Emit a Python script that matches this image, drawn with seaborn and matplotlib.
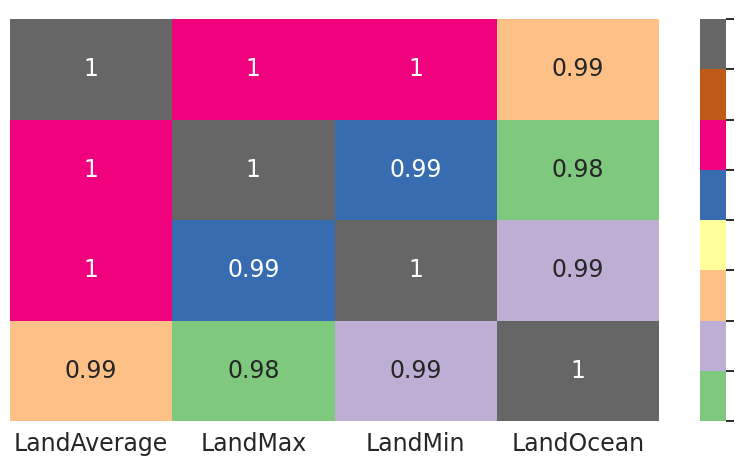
import numpy as np
import pandas as pd
import matplotlib
matplotlib.use("Agg")
import matplotlib.pyplot as plt
import seaborn as sns

variables = ["LandAverage", "LandMax", "LandMin", "LandOcean"]

row_land_average = [1.000, 0.994, 0.994, 0.986]
row_land_max     = [0.994, 1.000, 0.991, 0.980]
row_land_min     = [0.994, 0.991, 1.000, 0.984]
row_land_ocean   = [0.986, 0.980, 0.984, 1.000]

# annotation texts as shown in the cells
annot_land_average = ["1", "1", "1", "0.99"]
annot_land_max     = ["1", "1", "0.99", "0.98"]
annot_land_min     = ["1", "0.99", "1", "0.99"]
annot_land_ocean   = ["0.99", "0.98", "0.99", "1"]

corr = pd.DataFrame([row_land_average, row_land_max, row_land_min, row_land_ocean],
                    index=variables, columns=variables)
annot = np.array([annot_land_average, annot_land_max, annot_land_min, annot_land_ocean])

sns.set_style("white")
plt.rcParams["font.family"] = ["DejaVu Sans"]

W, H, DPI = 735, 468, 170
fig = plt.figure(figsize=(W / DPI, H / DPI), dpi=DPI)
ax = fig.add_axes([10 / W, (H - 421) / H, 649 / W, 402 / H])
cax = fig.add_axes([700 / W, (H - 421) / H, 26 / W, 402 / H])

sns.heatmap(corr, annot=annot, fmt="", cmap="Accent", vmin=0.98, vmax=1.0,
            ax=ax, cbar_ax=cax, yticklabels=False)
ax.tick_params(axis="x", length=0, rotation=0, pad=4.8)
ax.set_xlabel("")
ax.set_ylabel("")

cax.set_yticks(np.linspace(0.98, 1.0, 9))
cax.set_yticklabels([])
cax.tick_params(axis="y", length=3.5, width=0.8, right=True)

fig.savefig("out.png", dpi=DPI)
